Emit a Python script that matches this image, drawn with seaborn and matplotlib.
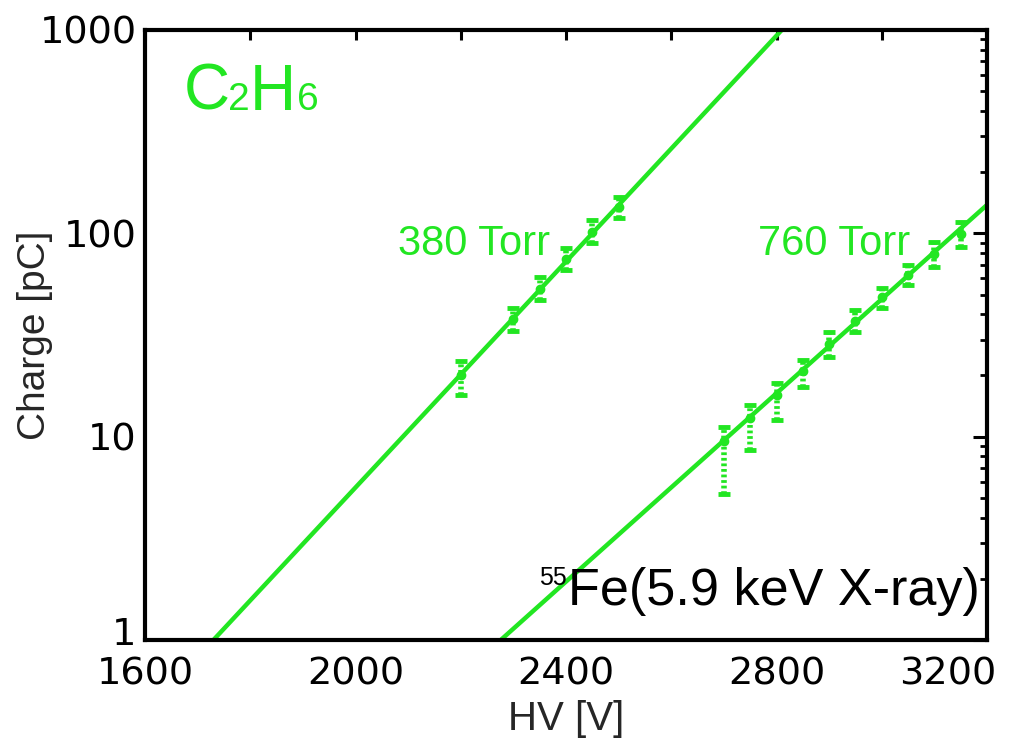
import matplotlib
matplotlib.use("Agg")
import matplotlib.pyplot as plt
import matplotlib.transforms as mtransforms
import seaborn as sns
import pandas as pd
import numpy as np

# ---- data ----
hv_380 = [2200, 2300, 2350, 2400, 2450, 2500]
q_380 = [20, 38, 53, 75, 102, 134]
q_380_lo = [16, 33, 47, 66, 90, 119]
q_380_hi = [23.5, 43, 61, 85, 116, 151]

hv_760 = [2700, 2750, 2800, 2850, 2900, 2950, 3000, 3050, 3100, 3150]
q_760 = [9.5, 12.3, 16.0, 21.0, 28.5, 37.0, 48.5, 62.5, 79.0, 99.0]
q_760_lo = [5.2, 8.6, 12.1, 17.6, 24.6, 32.7, 43, 56, 68, 86]
q_760_hi = [11.2, 14.3, 18.4, 23.8, 32.7, 42, 54, 70, 91, 114]

fit_380_hv = [1730, 2810]
fit_380_q = [1.0, 1000.0]
fit_760_hv = [2276, 3200]
fit_760_q = [1.0, 138.0]

x_ticks = [1600, 2000, 2400, 2800, 3200]
y_ticks = [1, 10, 100, 1000]
y_ticklabels = ["1", "10", "100", "1000"]

GREEN = "#22e622"

sns.set_theme(style="white")
plt.rcParams["font.family"] = ["DejaVu Sans"]

fig = plt.figure(figsize=(10.18, 7.41), dpi=100)
ax = fig.add_axes([145/1018, 1-640/741, (987-145)/1018, (640-30)/741])

fits = pd.concat([
    pd.DataFrame({"hv": fit_380_hv, "q": fit_380_q, "p": "380"}),
    pd.DataFrame({"hv": fit_760_hv, "q": fit_760_q, "p": "760"}),
])
sns.lineplot(data=fits, x="hv", y="q", units="p", estimator=None,
             color=GREEN, lw=3.2, ax=ax, legend=False)

for hv, q, lo, hi in [(hv_380, q_380, q_380_lo, q_380_hi),
                      (hv_760, q_760, q_760_lo, q_760_hi)]:
    q = np.array(q); lo = np.array(lo); hi = np.array(hi)
    eb = ax.errorbar(hv, q, yerr=[q - lo, hi - q], fmt="o", ms=6,
                     color=GREEN, ecolor=GREEN, elinewidth=4,
                     capsize=4, capthick=3.5)
    for c in eb[2]:
        c.set_linestyle((0, (0.5, 0.5)))

ax.set_yscale("log")
ax.set_xlim(1600, 3200)
ax.set_ylim(1, 1000)
ax.set_xticks(x_ticks)
ax.set_xticklabels([str(t) for t in x_ticks])
ax.set_xticks(np.arange(1600, 3201, 200), minor=True)
ax.set_yticks(y_ticks)
ax.set_yticklabels(y_ticklabels)
ax.tick_params(axis="both", which="both", direction="in", top=True, right=True,
               colors="black", labelsize=27.5)
ax.tick_params(axis="x", which="both", length=7, width=2.2, pad=12)
ax.tick_params(axis="y", which="major", length=10, width=2.2, pad=6)
ax.tick_params(axis="y", which="minor", length=5, width=2.0)
for s in ax.spines.values():
    s.set_linewidth(3)
    s.set_color("black")

fig.canvas.draw()
for lab in ax.get_xticklabels():
    if lab.get_text() == "3200":
        lab.set_horizontalalignment("right")
        lab.set_transform(lab.get_transform() +
                          mtransforms.ScaledTranslation(9/100, 0, fig.dpi_scale_trans))
for lab in ax.get_yticklabels():
    if lab.get_text() == "1":
        lab.set_transform(lab.get_transform() +
                          mtransforms.ScaledTranslation(0, 9/100, fig.dpi_scale_trans))

ax.set_xlabel("HV [V]", fontsize=29, family="Liberation Sans")
ax.set_ylabel("Charge [pC]", fontsize=28, family="Liberation Sans")
ax.xaxis.set_label_coords(0.5, -0.098)
ax.yaxis.set_label_coords(-0.109, 0.5)
ax.grid(False)

# C2H6 label (small digits sit on the baseline)
for s, x, fs in [("C", 0.0463, 46), ("2", 0.0986, 28), ("H", 0.1247, 46), ("6", 0.1805, 28)]:
    ax.text(x, 0.869, s, transform=ax.transAxes, color=GREEN, fontsize=fs,
            family="Liberation Sans", va="baseline", ha="left")

ax.text(2080, 78, "380 Torr", color=GREEN, fontsize=30,
        family="Liberation Sans", va="baseline", ha="left")
ax.text(2765, 78, "760 Torr", color=GREEN, fontsize=30,
        family="Liberation Sans", va="baseline", ha="left")
fe = ax.text(0.9917, 0.0574, "Fe(5.9 keV X-ray)", transform=ax.transAxes,
             color="black", fontsize=37.5, family="Liberation Sans",
             va="baseline", ha="right")
ax.annotate("55", xy=(0, 1), xycoords=fe, xytext=(-1, 1),
            textcoords="offset points", ha="right", va="top",
            fontsize=18, family="Liberation Sans", color="black")

fig.savefig("out.png", dpi=100)
